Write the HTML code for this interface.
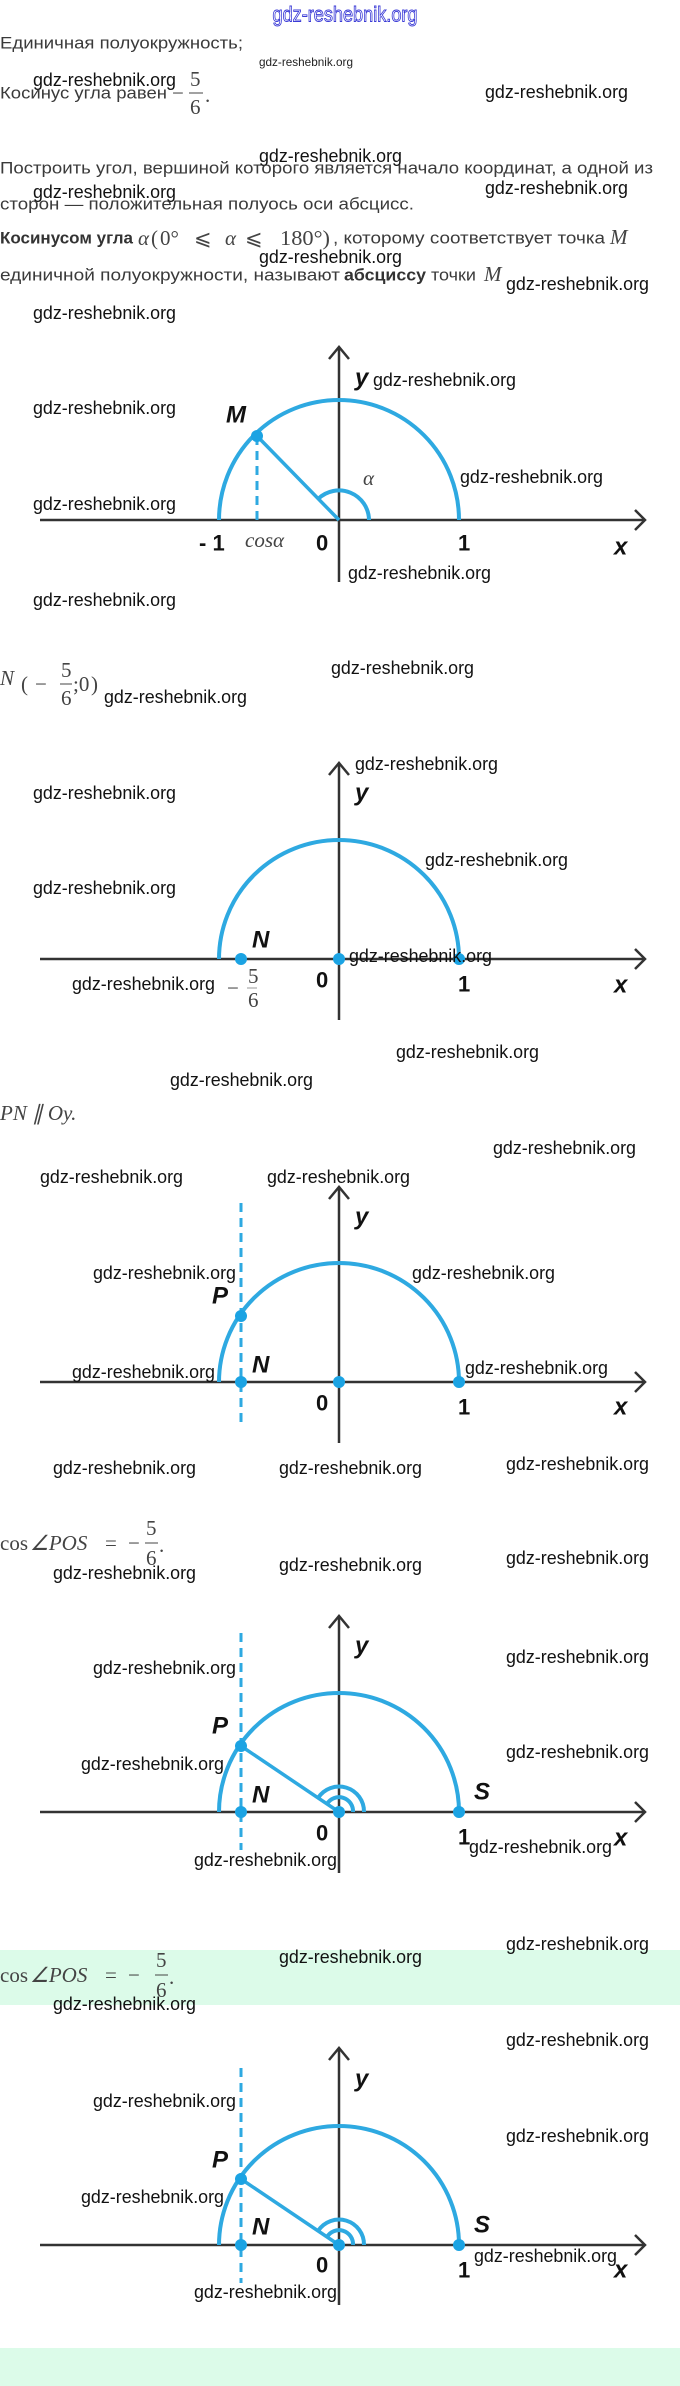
<!DOCTYPE html>
<html><head><meta charset="utf-8"><style>
html,body{margin:0;padding:0;background:#fff;}
svg{display:block;}
.wm{font-family:"Liberation Sans",sans-serif;font-size:18px;fill:#111;dominant-baseline:central;}
.t{font-family:"Liberation Sans","Noto Sans CJK SC",sans-serif;font-size:17px;fill:#3a3a3a;dominant-baseline:central;}
.b{font-weight:bold;fill:#333;}
.m{font-family:"Liberation Serif",serif;font-size:21px;fill:#444;dominant-baseline:central;}
.mi{font-family:"Liberation Serif",serif;font-style:italic;font-size:21px;fill:#444;dominant-baseline:central;}
.lbl{font-family:"Liberation Sans",sans-serif;font-weight:bold;font-style:italic;font-size:24px;fill:#111;dominant-baseline:central;}
.num{font-family:"Liberation Sans",sans-serif;font-weight:bold;font-size:22px;fill:#111;dominant-baseline:central;}
.ax{stroke:#333;stroke-width:2.5;fill:none;}
.arc{stroke:#2ea9e1;stroke-width:4;fill:none;}
.ds{stroke:#2ea9e1;stroke-width:3;stroke-dasharray:9 6;fill:none;}
.dot{fill:#1ba3e3;}
</style></head><body>
<svg width="680" height="2386" viewBox="0 0 680 2386" xmlns="http://www.w3.org/2000/svg">
<rect x="0" y="1950" width="680" height="55" fill="#dcfbe9"/>
<rect x="0" y="2348" width="680" height="38" fill="#dcfbe9"/>

<text x="345" y="15" text-anchor="middle" font-family="Liberation Sans,sans-serif" font-size="21" fill="none" stroke="#3b3bd6" stroke-width="0.9" dominant-baseline="central" textLength="145" lengthAdjust="spacingAndGlyphs">gdz-reshebnik.org</text>

<text class="t" x="0" y="43" textLength="243" lengthAdjust="spacingAndGlyphs">Единичная полуокружность;</text>
<text x="259" y="62" font-family="Liberation Sans,sans-serif" font-size="12" fill="#222" dominant-baseline="central" textLength="94" lengthAdjust="spacingAndGlyphs">gdz-reshebnik.org</text>
<text class="wm" x="33" y="80" textLength="143" lengthAdjust="spacingAndGlyphs">gdz-reshebnik.org</text>
<text class="t" x="0" y="93" textLength="167" lengthAdjust="spacingAndGlyphs">Косинус угла равен</text>
<text class="m" x="172" y="93">−</text>
<text class="m" x="190" y="79" font-size="19">5</text>
<line x1="189" y1="93" x2="203" y2="93" stroke="#444" stroke-width="1"/>
<text class="m" x="190" y="107" font-size="19">6</text>
<text class="m" x="205" y="95">.</text>
<text class="wm" x="485" y="92" textLength="143" lengthAdjust="spacingAndGlyphs">gdz-reshebnik.org</text>

<text class="wm" x="259" y="156" textLength="143" lengthAdjust="spacingAndGlyphs">gdz-reshebnik.org</text>
<text class="t" x="0" y="168" textLength="653" lengthAdjust="spacingAndGlyphs">Построить угол, вершиной которого является начало координат, а одной из</text>
<text class="wm" x="33" y="192" textLength="143" lengthAdjust="spacingAndGlyphs">gdz-reshebnik.org</text>
<text class="wm" x="485" y="188" textLength="143" lengthAdjust="spacingAndGlyphs">gdz-reshebnik.org</text>
<text class="t" x="0" y="204" textLength="414" lengthAdjust="spacingAndGlyphs">сторон — положительная полуось оси абсцисс.</text>

<text class="t b" x="0" y="238" textLength="133" lengthAdjust="spacingAndGlyphs">Косинусом угла</text>
<text class="mi" x="138" y="238">α</text>
<text class="m" x="151" y="238" font-size="24">(</text>
<text class="m" x="160" y="238">0°</text>
<text class="m" x="194" y="238">⩽</text>
<text class="mi" x="225" y="238">α</text>
<text class="m" x="245" y="238">⩽</text>
<text class="m" x="280" y="238" textLength="50" lengthAdjust="spacingAndGlyphs">180°)</text>
<text class="t" x="333" y="238" textLength="272" lengthAdjust="spacingAndGlyphs">, которому соответствует точка</text>
<text class="mi" x="610" y="237" font-size="24">M</text>
<text class="wm" x="259" y="257" textLength="143" lengthAdjust="spacingAndGlyphs">gdz-reshebnik.org</text>
<text class="t" x="0" y="275" textLength="340" lengthAdjust="spacingAndGlyphs">единичной полуокружности, называют</text>
<text class="t b" x="344" y="275" textLength="82" lengthAdjust="spacingAndGlyphs">абсциссу</text>
<text class="t" x="431" y="275" textLength="45" lengthAdjust="spacingAndGlyphs">точки</text>
<text class="mi" x="484" y="274" font-size="24">M</text>
<text class="wm" x="506" y="284" textLength="143" lengthAdjust="spacingAndGlyphs">gdz-reshebnik.org</text>

<!-- Diagram 1 -->
<text class="wm" x="33" y="313" textLength="143" lengthAdjust="spacingAndGlyphs">gdz-reshebnik.org</text>
<line class="ax" x1="40" y1="520" x2="645" y2="520"/>
<polyline class="ax" points="635,510 645,520 635,530"/>
<line class="ax" x1="339" y1="347" x2="339" y2="582"/>
<polyline class="ax" points="329,359 339,347 349,359"/>
<path class="arc" d="M219 520 A120 120 0 0 1 459 520"/>
<line class="ds" x1="257" y1="436" x2="257" y2="520"/>
<line x1="257" y1="436" x2="339" y2="520" stroke="#2ea9e1" stroke-width="3.5"/>
<path class="arc" d="M369 520 A30 30 0 0 0 318 499" stroke-width="3.5"/>
<circle class="dot" cx="257" cy="436" r="6"/>
<text class="lbl" x="226" y="415">M</text>
<text class="lbl" x="355" y="378">y</text>
<text class="wm" x="373" y="380" textLength="143" lengthAdjust="spacingAndGlyphs">gdz-reshebnik.org</text>
<text class="wm" x="33" y="408" textLength="143" lengthAdjust="spacingAndGlyphs">gdz-reshebnik.org</text>
<text class="mi" x="363" y="478">α</text>
<text class="wm" x="460" y="477" textLength="143" lengthAdjust="spacingAndGlyphs">gdz-reshebnik.org</text>
<text class="wm" x="33" y="504" textLength="143" lengthAdjust="spacingAndGlyphs">gdz-reshebnik.org</text>
<text class="num" x="199" y="543">- 1</text>
<text class="mi" x="245" y="540" fill="#666" font-size="20">cosα</text>
<text class="num" x="316" y="543">0</text>
<text class="num" x="458" y="543">1</text>
<text class="lbl" x="614" y="547">x</text>
<text class="wm" x="348" y="573" textLength="143" lengthAdjust="spacingAndGlyphs">gdz-reshebnik.org</text>
<text class="wm" x="33" y="600" textLength="143" lengthAdjust="spacingAndGlyphs">gdz-reshebnik.org</text>

<!-- N(-5/6;0) -->
<text class="mi" x="0" y="678">N</text>
<text class="m" x="21" y="684" font-size="40">(</text>
<text class="m" x="35" y="684">−</text>
<text class="m" x="61" y="670" font-size="19">5</text>
<line x1="60" y1="684" x2="72" y2="684" stroke="#444" stroke-width="1"/>
<text class="m" x="61" y="698" font-size="19">6</text>
<text class="m" x="73" y="684">;0</text>
<text class="m" x="91" y="684" font-size="40">)</text>
<text class="wm" x="104" y="697" textLength="143" lengthAdjust="spacingAndGlyphs">gdz-reshebnik.org</text>
<text class="wm" x="331" y="668" textLength="143" lengthAdjust="spacingAndGlyphs">gdz-reshebnik.org</text>

<!-- Diagram 2 -->
<line class="ax" x1="40" y1="959" x2="645" y2="959"/>
<polyline class="ax" points="635,949 645,959 635,969"/>
<line class="ax" x1="339" y1="763" x2="339" y2="1020"/>
<polyline class="ax" points="329,775 339,763 349,775"/>
<path class="arc" d="M219 959 A120 119 0 0 1 459 959"/>
<circle class="dot" cx="241" cy="959" r="6"/>
<circle class="dot" cx="339" cy="959" r="6"/>
<circle class="dot" cx="459" cy="959" r="6"/>
<text class="wm" x="355" y="764" textLength="143" lengthAdjust="spacingAndGlyphs">gdz-reshebnik.org</text>
<text class="lbl" x="355" y="793">y</text>
<text class="wm" x="33" y="793" textLength="143" lengthAdjust="spacingAndGlyphs">gdz-reshebnik.org</text>
<text class="wm" x="425" y="860" textLength="143" lengthAdjust="spacingAndGlyphs">gdz-reshebnik.org</text>
<text class="wm" x="33" y="888" textLength="143" lengthAdjust="spacingAndGlyphs">gdz-reshebnik.org</text>
<text class="lbl" x="252" y="940">N</text>
<text class="wm" x="349" y="956" textLength="143" lengthAdjust="spacingAndGlyphs">gdz-reshebnik.org</text>
<text class="wm" x="72" y="984" textLength="143" lengthAdjust="spacingAndGlyphs">gdz-reshebnik.org</text>
<text class="m" x="227" y="988" fill="#888" font-size="17">−</text>
<text class="m" x="248" y="976" fill="#888" font-size="16">5</text>
<line x1="247" y1="988" x2="257" y2="988" stroke="#999" stroke-width="1"/>
<text class="m" x="248" y="1000" fill="#888" font-size="16">6</text>
<text class="num" x="316" y="980">0</text>
<text class="num" x="458" y="984">1</text>
<text class="lbl" x="614" y="985">x</text>
<text class="wm" x="396" y="1052" textLength="143" lengthAdjust="spacingAndGlyphs">gdz-reshebnik.org</text>
<text class="wm" x="170" y="1080" textLength="143" lengthAdjust="spacingAndGlyphs">gdz-reshebnik.org</text>
<text class="mi" x="0" y="1113">PN ∥ Oy.</text>

<!-- Diagram 3 -->
<text class="wm" x="493" y="1148" textLength="143" lengthAdjust="spacingAndGlyphs">gdz-reshebnik.org</text>
<text class="wm" x="40" y="1177" textLength="143" lengthAdjust="spacingAndGlyphs">gdz-reshebnik.org</text>
<text class="wm" x="267" y="1177" textLength="143" lengthAdjust="spacingAndGlyphs">gdz-reshebnik.org</text>
<line class="ax" x1="40" y1="1382" x2="645" y2="1382"/>
<polyline class="ax" points="635,1372 645,1382 635,1392"/>
<line class="ax" x1="339" y1="1187" x2="339" y2="1443"/>
<polyline class="ax" points="329,1199 339,1187 349,1199"/>
<path class="arc" d="M219 1382 A120 119 0 0 1 459 1382"/>
<line class="ds" x1="241" y1="1203" x2="241" y2="1422"/>
<circle class="dot" cx="241" cy="1316" r="6"/>
<circle class="dot" cx="241" cy="1382" r="6"/>
<circle class="dot" cx="339" cy="1382" r="6"/>
<circle class="dot" cx="459" cy="1382" r="6"/>
<text class="lbl" x="355" y="1217">y</text>
<text class="wm" x="93" y="1273" textLength="143" lengthAdjust="spacingAndGlyphs">gdz-reshebnik.org</text>
<text class="wm" x="412" y="1273" textLength="143" lengthAdjust="spacingAndGlyphs">gdz-reshebnik.org</text>
<text class="lbl" x="212" y="1296">P</text>
<text class="wm" x="72" y="1372" textLength="143" lengthAdjust="spacingAndGlyphs">gdz-reshebnik.org</text>
<text class="lbl" x="252" y="1365">N</text>
<text class="wm" x="465" y="1368" textLength="143" lengthAdjust="spacingAndGlyphs">gdz-reshebnik.org</text>
<text class="num" x="316" y="1403">0</text>
<text class="num" x="458" y="1407">1</text>
<text class="lbl" x="614" y="1407">x</text>
<text class="wm" x="53" y="1468" textLength="143" lengthAdjust="spacingAndGlyphs">gdz-reshebnik.org</text>
<text class="wm" x="279" y="1468" textLength="143" lengthAdjust="spacingAndGlyphs">gdz-reshebnik.org</text>
<text class="wm" x="506" y="1464" textLength="143" lengthAdjust="spacingAndGlyphs">gdz-reshebnik.org</text>

<!-- cos POS 1 -->
<text class="m" x="0" y="1543" font-size="22">cos</text>
<text class="mi" x="30" y="1543" font-size="22">∠POS</text>
<text class="m" x="105" y="1543" font-size="22">=</text>
<text class="m" x="128" y="1543" font-size="22">−</text>
<text class="m" x="146" y="1528" font-size="20">5</text>
<line x1="145" y1="1543" x2="158" y2="1543" stroke="#444" stroke-width="1"/>
<text class="m" x="146" y="1558" font-size="20">6</text>
<text class="m" x="159" y="1545" font-size="22">.</text>
<text class="wm" x="53" y="1573" textLength="143" lengthAdjust="spacingAndGlyphs">gdz-reshebnik.org</text>
<text class="wm" x="279" y="1565" textLength="143" lengthAdjust="spacingAndGlyphs">gdz-reshebnik.org</text>
<text class="wm" x="506" y="1558" textLength="143" lengthAdjust="spacingAndGlyphs">gdz-reshebnik.org</text>

<!-- Diagram 4 -->
<line class="ax" x1="40" y1="1812" x2="645" y2="1812"/>
<polyline class="ax" points="635,1802 645,1812 635,1822"/>
<line class="ax" x1="339" y1="1616" x2="339" y2="1873"/>
<polyline class="ax" points="329,1628 339,1616 349,1628"/>
<path class="arc" d="M219 1812 A120 119 0 0 1 459 1812"/>
<line class="ds" x1="241" y1="1633" x2="241" y2="1850"/>
<line x1="241" y1="1746" x2="339" y2="1812" stroke="#2ea9e1" stroke-width="3.5"/>
<path class="arc" d="M364 1812 A25 25 0 0 0 318 1798" stroke-width="3.5"/>
<path class="arc" d="M353 1812 A14 14 0 0 0 327 1804" stroke-width="3.5"/>
<circle class="dot" cx="241" cy="1746" r="6"/>
<circle class="dot" cx="241" cy="1812" r="6"/>
<circle class="dot" cx="339" cy="1812" r="6"/>
<circle class="dot" cx="459" cy="1812" r="6"/>
<text class="lbl" x="355" y="1646">y</text>
<text class="wm" x="506" y="1657" textLength="143" lengthAdjust="spacingAndGlyphs">gdz-reshebnik.org</text>
<text class="wm" x="93" y="1668" textLength="143" lengthAdjust="spacingAndGlyphs">gdz-reshebnik.org</text>
<text class="lbl" x="212" y="1726">P</text>
<text class="wm" x="506" y="1752" textLength="143" lengthAdjust="spacingAndGlyphs">gdz-reshebnik.org</text>
<text class="wm" x="81" y="1764" textLength="143" lengthAdjust="spacingAndGlyphs">gdz-reshebnik.org</text>
<text class="lbl" x="252" y="1795">N</text>
<text class="lbl" x="474" y="1792">S</text>
<text class="num" x="316" y="1833">0</text>
<text class="num" x="458" y="1837">1</text>
<text class="wm" x="469" y="1847" textLength="143" lengthAdjust="spacingAndGlyphs">gdz-reshebnik.org</text>
<text class="lbl" x="614" y="1838">x</text>
<text class="wm" x="194" y="1860" textLength="143" lengthAdjust="spacingAndGlyphs">gdz-reshebnik.org</text>
<text class="wm" x="506" y="1944" textLength="143" lengthAdjust="spacingAndGlyphs">gdz-reshebnik.org</text>

<!-- cos POS 2 -->
<text class="m" x="0" y="1975" font-size="22">cos</text>
<text class="mi" x="30" y="1975" font-size="22">∠POS</text>
<text class="m" x="105" y="1975" font-size="22">=</text>
<text class="m" x="128" y="1975" font-size="22">−</text>
<text class="m" x="156" y="1960" font-size="20">5</text>
<line x1="155" y1="1975" x2="168" y2="1975" stroke="#444" stroke-width="1"/>
<text class="m" x="156" y="1990" font-size="20">6</text>
<text class="m" x="169" y="1977" font-size="22">.</text>
<text class="wm" x="279" y="1957" textLength="143" lengthAdjust="spacingAndGlyphs">gdz-reshebnik.org</text>
<text class="wm" x="53" y="2004" textLength="143" lengthAdjust="spacingAndGlyphs">gdz-reshebnik.org</text>

<!-- Diagram 5 -->
<line class="ax" x1="40" y1="2245" x2="645" y2="2245"/>
<polyline class="ax" points="635,2235 645,2245 635,2255"/>
<line class="ax" x1="339" y1="2048" x2="339" y2="2305"/>
<polyline class="ax" points="329,2060 339,2048 349,2060"/>
<path class="arc" d="M219 2245 A120 119 0 0 1 459 2245"/>
<line class="ds" x1="241" y1="2068" x2="241" y2="2283"/>
<line x1="241" y1="2179" x2="339" y2="2245" stroke="#2ea9e1" stroke-width="3.5"/>
<path class="arc" d="M364 2245 A25 25 0 0 0 318 2231" stroke-width="3.5"/>
<path class="arc" d="M353 2245 A14 14 0 0 0 327 2237" stroke-width="3.5"/>
<circle class="dot" cx="241" cy="2179" r="6"/>
<circle class="dot" cx="241" cy="2245" r="6"/>
<circle class="dot" cx="339" cy="2245" r="6"/>
<circle class="dot" cx="459" cy="2245" r="6"/>
<text class="wm" x="506" y="2040" textLength="143" lengthAdjust="spacingAndGlyphs">gdz-reshebnik.org</text>
<text class="lbl" x="355" y="2079">y</text>
<text class="wm" x="93" y="2101" textLength="143" lengthAdjust="spacingAndGlyphs">gdz-reshebnik.org</text>
<text class="wm" x="506" y="2136" textLength="143" lengthAdjust="spacingAndGlyphs">gdz-reshebnik.org</text>
<text class="lbl" x="212" y="2160">P</text>
<text class="wm" x="81" y="2197" textLength="143" lengthAdjust="spacingAndGlyphs">gdz-reshebnik.org</text>
<text class="lbl" x="252" y="2227">N</text>
<text class="lbl" x="474" y="2225">S</text>
<text class="wm" x="474" y="2256" textLength="143" lengthAdjust="spacingAndGlyphs">gdz-reshebnik.org</text>
<text class="num" x="316" y="2265">0</text>
<text class="num" x="458" y="2270">1</text>
<text class="lbl" x="614" y="2270">x</text>
<text class="wm" x="194" y="2292" textLength="143" lengthAdjust="spacingAndGlyphs">gdz-reshebnik.org</text>
</svg>
</body></html>
